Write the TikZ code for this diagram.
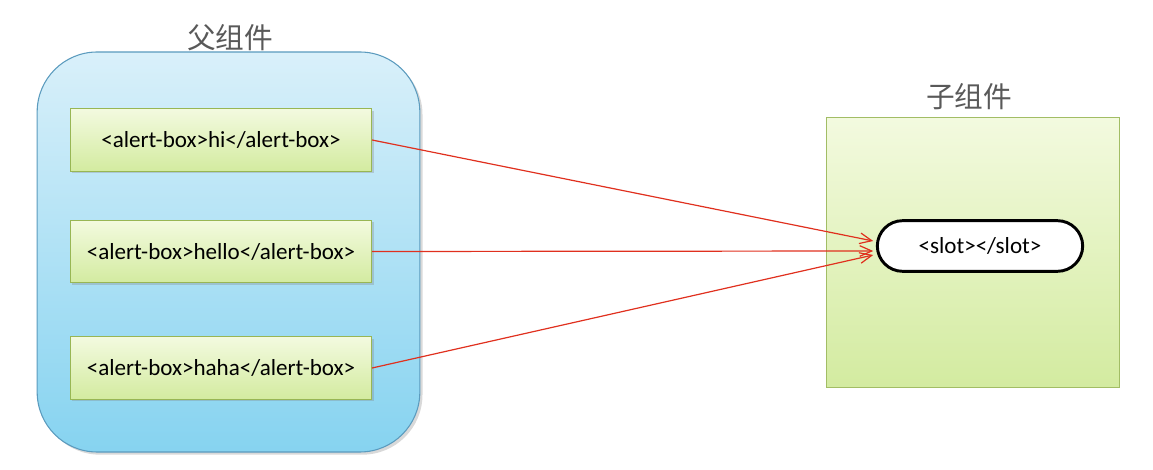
\documentclass[tikz,border=0pt]{standalone}
\usepackage{fontspec}
\setmainfont{Carlito}
\newfontfamily\cjk{Noto Sans CJK SC}
\usetikzlibrary{positioning,arrows.meta,shadows}
\definecolor{edgeblue}{HTML}{5B9BBE}
\definecolor{skytop}{HTML}{D9F0FA}
\definecolor{skybot}{HTML}{86D3F0}
\definecolor{leaftop}{HTML}{F3FADF}
\definecolor{leafbot}{HTML}{D3EBA0}
\definecolor{leafedge}{HTML}{98B654}
\definecolor{wire}{HTML}{E0301E}

\begin{document}
\begin{tikzpicture}[x=0.75pt, y=-0.75pt, >={Straight Barb[length=9pt,width=8pt]},
    font=\fontsize{17.3}{20}\selectfont,
    parent/.style={draw=edgeblue, line width=0.8pt, rounded corners=45pt,
                   top color=skytop, bottom color=skybot,
                   drop shadow={shadow xshift=2pt, shadow yshift=-2pt, opacity=0.3},
                   minimum width=287pt, minimum height=300pt},
    child/.style={draw=leafedge!90, line width=0.6pt, top color=leaftop, bottom color=leafbot,
                  minimum width=220pt, minimum height=202pt},
    tag/.style={draw=leafedge, line width=0.6pt, top color=leaftop, bottom color=leafbot,
                drop shadow={shadow xshift=1.5pt, shadow yshift=-1.5pt, opacity=0.3},
                minimum width=226pt, minimum height=47pt, inner sep=0pt},
    title/.style={text=black!65, font=\cjk\fontsize{21.5}{24}\selectfont},
    slotbox/.style={draw=black, line width=2.2pt, fill=white, rounded corners=19pt,
                    minimum width=154pt, minimum height=38pt, inner sep=0pt}]

    \useasboundingbox (0,0) rectangle (1153,470);

    \node[parent] (par) at (228.5,252) {};
    \node[title] (ptitle) at (230,38) {父组件};

    \node[tag] (b1) at (221,140) {<alert-box>hi</alert-box>};
    \node[tag] (b2) at (221,251.5) {<alert-box>hello</alert-box>};
    \node[tag] (b3) at (221,368) {<alert-box>haha</alert-box>};

    \node[child] (chd) at (973,252.5) {};
    \node[title] (ctitle) at (969,97) {子组件};

    \node[slotbox] (slot) at (980,246) {<slot></slot>};

    \foreach \a/\d in {b1/-5, b2/5, b3/9}
        \draw[->, wire, line width=0.9pt] (\a.east) -- ([xshift=-2pt, yshift=-\d*0.75pt]slot.west);
\end{tikzpicture}
\end{document}
